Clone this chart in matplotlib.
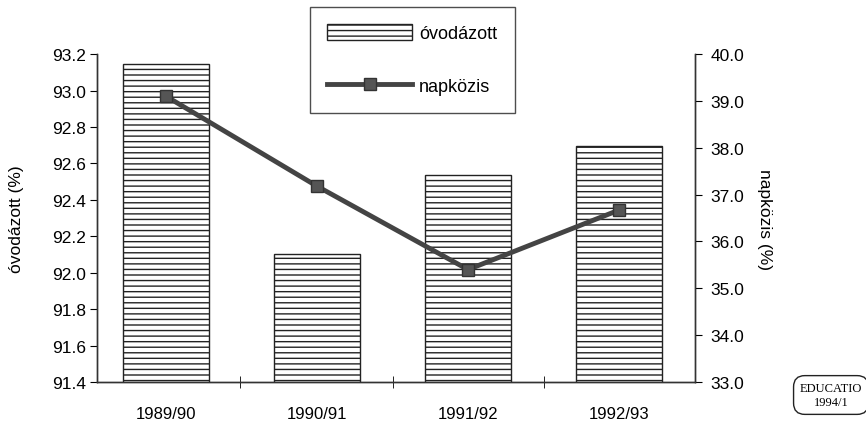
import numpy as np
import matplotlib.pyplot as plt
from matplotlib import font_manager

years = ["1989/90", "1990/91", "1991/92", "1992/93"]
ovodazott = [93.145, 92.10, 92.535, 92.695]
napkozis = [39.10, 37.18, 35.40, 36.67]

left_ticks = [91.4, 91.6, 91.8, 92.0, 92.2, 92.4, 92.6, 92.8, 93.0, 93.2]
right_ticks = [33.0, 34.0, 35.0, 36.0, 37.0, 38.0, 39.0, 40.0]

names = {f.name for f in font_manager.fontManager.ttflist}
narrow = "Liberation Sans Narrow" if "Liberation Sans Narrow" in names else "Liberation Sans"
plt.rcParams["font.family"] = [narrow, "DejaVu Sans"]
plt.rcParams["hatch.linewidth"] = 1.0
plt.rcParams["hatch.color"] = "#222222"

fig = plt.figure(figsize=(8.66, 4.27), dpi=100)
ax = fig.add_axes([0.112, 0.103, 0.6905, 0.768])
ax2 = ax.twinx()

x = np.arange(len(years))
bars = ax.bar(x, ovodazott, width=0.57, bottom=0, color="white",
              edgecolor="#222222", linewidth=1.0, hatch="---",
              label="óvodázott")
ax.set_ylim(91.4, 93.2)
ax.set_xlim(-0.457, 3.503)
ax.set_yticks(left_ticks)
ax.set_yticklabels([f"{v:.1f}" for v in left_ticks])
ax.set_xticks(x)
ax.set_xticklabels(years)
ax.set_xticks([0.49, 1.5, 2.5], minor=True)
ax.tick_params(axis="x", which="major", length=0, pad=17, labelsize=12)
ax.tick_params(axis="x", which="minor", length=8, direction="inout")
ax.tick_params(axis="y", length=5, labelsize=12.5, pad=3)
ax.set_ylabel("óvodázott (%)", fontsize=12.5, labelpad=20)

line, = ax2.plot(x, napkozis, color="#444444", linewidth=3.5, marker="s",
                 markersize=8, markerfacecolor="#555555",
                 markeredgecolor="#333333", label="napközis")
ax2.set_ylim(33.0, 40.0)
ax2.set_yticks(right_ticks)
ax2.set_yticklabels([f"{v:.1f}" for v in right_ticks])
ax2.tick_params(axis="y", length=5, labelsize=12.5, pad=6)
ax2.set_ylabel("napközis (%)", fontsize=12.5, rotation=270, labelpad=20)

for a in (ax, ax2):
    a.spines["top"].set_visible(False)
    for s in ("left", "right", "bottom"):
        a.spines[s].set_color("#333333")
        a.spines[s].set_linewidth(1.0)

leg = fig.legend([bars, line], ["óvodázott", "napközis"],
                 loc="upper left", bbox_to_anchor=(310 / 866, 1 - 8 / 427),
                 frameon=True, fancybox=False, fontsize=13,
                 handlelength=4.7, handleheight=0.95, labelspacing=1.95,
                 borderpad=0.95, handletextpad=0.4, borderaxespad=0)
leg.get_frame().set_edgecolor("#222222")
leg.get_frame().set_linewidth(1.0)

fig.text(831 / 866, 1 - 396 / 427, "EDUCATIO\n1994/1", ha="center",
         va="center", fontsize=9,
         family=["Liberation Serif", "DejaVu Serif"], linespacing=1.25,
         bbox=dict(boxstyle="round,pad=0.5,rounding_size=0.9",
                   facecolor="white", edgecolor="#222222", linewidth=1.0))

fig.savefig("out.png", dpi=100)
